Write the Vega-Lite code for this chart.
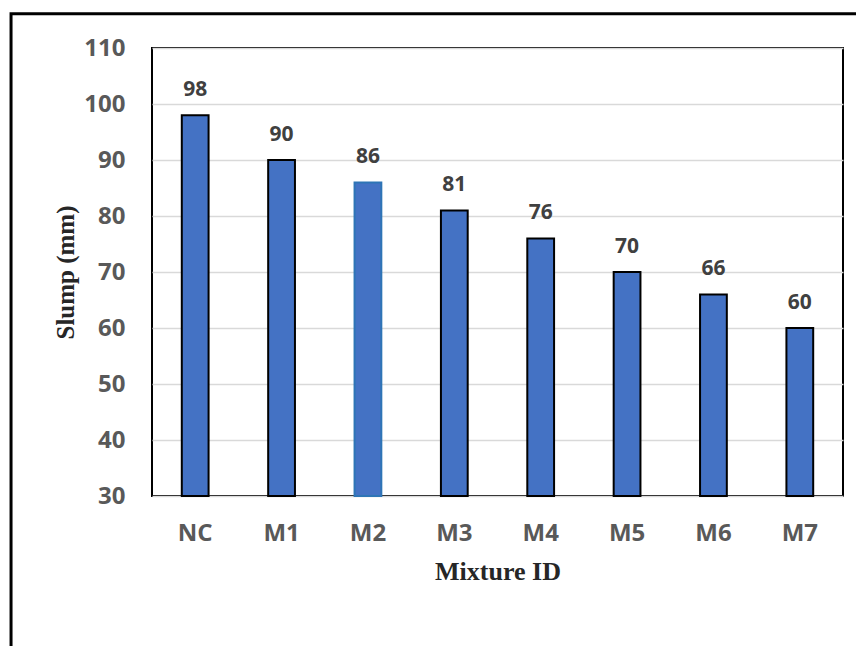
{
  "$schema": "https://vega.github.io/schema/vega-lite/v6.json",
  "width": 691,
  "height": 448,
  "autosize": {"type": "none"},
  "padding": {"left": 152, "top": 48, "right": 13, "bottom": 150},
  "background": "white",
  "config": {
    "view": {"stroke": "black", "strokeWidth": 2},
    "font": "Open Sans"
  },
  "layer": [
    {
      "data": {
        "values": [
          {"mixture": "NC", "slump": 98},
          {"mixture": "M1", "slump": 90},
          {"mixture": "M2", "slump": 86},
          {"mixture": "M3", "slump": 81},
          {"mixture": "M4", "slump": 76},
          {"mixture": "M5", "slump": 70},
          {"mixture": "M6", "slump": 66},
          {"mixture": "M7", "slump": 60}
        ]
      },
      "encoding": {
        "x": {
          "field": "mixture",
          "type": "nominal",
          "sort": null,
          "scale": {"paddingInner": 0, "paddingOuter": 0},
          "axis": {
            "title": "Mixture ID",
            "titleFont": "Liberation Serif",
            "titleFontSize": 26,
            "titleFontWeight": "bold",
            "titleColor": "#262626",
            "titlePadding": 13,
            "labelFont": "Open Sans",
            "labelFontSize": 24,
            "labelFontWeight": "bold",
            "labelColor": "#595959",
            "labelAngle": 0,
            "labelPadding": 25,
            "ticks": false,
            "tickSize": 0,
            "domain": false,
            "grid": false
          }
        },
        "y": {
          "field": "slump",
          "type": "quantitative",
          "scale": {"domain": [30, 110], "nice": false, "zero": false},
          "axis": {
            "title": "Slump (mm)",
            "titleFont": "Liberation Serif",
            "titleFontSize": 25,
            "titleFontWeight": "bold",
            "titleColor": "#262626",
            "titlePadding": 5,
            "values": [30, 40, 50, 60, 70, 80, 90, 100, 110],
            "labelFont": "Open Sans",
            "labelFontSize": 24,
            "labelFontWeight": "bold",
            "labelColor": "#595959",
            "labelPadding": 27,
            "ticks": false,
            "tickSize": 0,
            "domain": false,
            "grid": true,
            "gridColor": "#d9d9d9",
            "gridWidth": 1.5
          }
        }
      },
      "layer": [
        {
          "mark": {"type": "bar", "width": {"band": 0.31}, "fill": "#4472C4", "strokeWidth": 2},
          "encoding": {
            "y2": {"datum": 30},
            "stroke": {
              "condition": {"test": "datum.mixture === 'M2'", "value": "#2E75B6"},
              "value": "black"
            }
          }
        },
        {
          "mark": {
            "type": "text",
            "baseline": "alphabetic",
            "dy": -19,
            "font": "Open Sans",
            "fontSize": 21,
            "fontWeight": "bold",
            "color": "#404040"
          },
          "encoding": {"text": {"field": "slump", "type": "quantitative"}}
        }
      ]
    },
    {
      "data": {"values": [{}]},
      "mark": {"type": "rect", "fill": "white", "fillOpacity": 0, "stroke": "black", "strokeWidth": 3, "clip": false},
      "encoding": {
        "x": {"datum": -1.632, "type": "quantitative", "scale": {"domain": [0, 8], "nice": false, "zero": false}, "axis": null},
        "x2": {"datum": 8.6},
        "y": {"datum": 116.1, "type": "quantitative", "scale": {"domain": [30, 110], "nice": false, "zero": false}},
        "y2": {"datum": 0}
      }
    }
  ],
  "resolve": {"scale": {"x": "independent"}, "axis": {"x": "independent"}}
}
